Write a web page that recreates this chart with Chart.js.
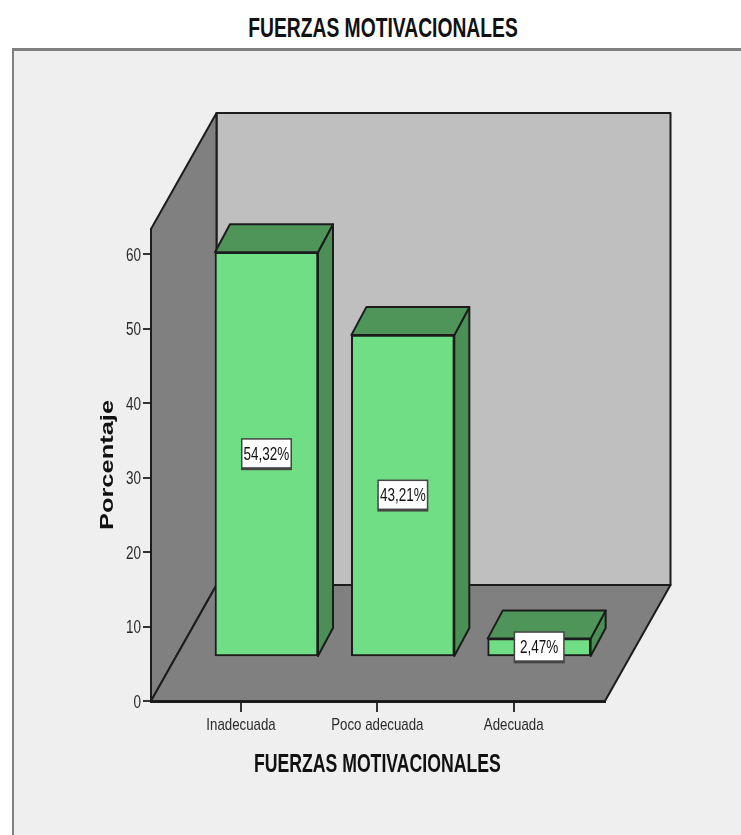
<!DOCTYPE html>
<html lang="es">
<head>
<meta charset="utf-8">
<title>FUERZAS MOTIVACIONALES</title>
<script src="https://cdn.jsdelivr.net/npm/chart.js@4"></script>
<style>
  html, body { margin: 0; padding: 0; background: #fff; overflow: hidden; }
  #page { position: relative; width: 741px; height: 835px; }
  #panel {
    position: absolute; left: 12px; top: 48px; right: 0; bottom: 0;
    background: #efefef;
    border-top: 3px solid #808080;
    border-left: 2px solid #808080;
  }
  h1 {
    position: absolute; left: 0; top: 13px; width: 766px; margin: 0;
    text-align: center; color: #111;
    font: bold 27px "Liberation Sans", sans-serif;
    transform: scaleX(0.714);
  }
  canvas { position: absolute; left: 0; top: 0; }
</style>
</head>
<body>
<div id="page">
  <div id="panel"></div>
  <h1>FUERZAS MOTIVACIONALES</h1>
  <canvas id="barChart" width="741" height="835"></canvas>
</div>
<script>
var categories = ["Inadecuada", "Poco adecuada", "Adecuada"];
var percentages = [54.32, 43.21, 2.47];
var valueLabels = ["54,32%", "43,21%", "2,47%"];
var yTickValues = [0, 10, 20, 30, 40, 50, 60];
var xTickValues = [0, 1, 2];
var xAxisTitle = "FUERZAS MOTIVACIONALES";
var yAxisTitle = "Porcentaje";

var SANS = '"Liberation Sans", sans-serif';
var EDGE = "#1c1c1c";

// pseudo-3D depth, in pixels
var FLOOR_DX = 65.5, FLOOR_DY = 116; // floor, front edge to back wall
var BAR_DX = 25.5, BAR_DY = 44;      // bar front face relative to the axis plane
var BOX_DX = 15, BOX_DY = 28;        // depth of each bar

function poly(ctx, pts, fill) {
  ctx.beginPath();
  ctx.moveTo(pts[0][0], pts[0][1]);
  for (var i = 1; i < pts.length; i++) ctx.lineTo(pts[i][0], pts[i][1]);
  ctx.closePath();
  ctx.fillStyle = fill;
  ctx.fill();
  ctx.strokeStyle = EDGE;
  ctx.lineWidth = 2;
  ctx.lineJoin = "round";
  ctx.stroke();
}

// there is no condensed face installed, so text is squeezed along its own direction
function squeezedText(ctx, text, x, y, font, color, sx, align) {
  ctx.save();
  ctx.translate(x, y);
  ctx.scale(sx, 1);
  ctx.font = font;
  ctx.fillStyle = color;
  ctx.textAlign = align || "center";
  ctx.textBaseline = "middle";
  ctx.fillText(text, 0, 0);
  ctx.restore();
}

var box3d = {
  id: "box3d",
  // back wall, side wall and floor
  beforeDatasetsDraw: function(chart) {
    var a = chart.chartArea, ctx = chart.ctx;
    var dx = FLOOR_DX, dy = FLOOR_DY;
    ctx.save();
    poly(ctx, [[a.left + dx, a.top - dy], [a.right + dx, a.top - dy],
               [a.right + dx, a.bottom - dy], [a.left + dx, a.bottom - dy]], "#bfbfbf");
    poly(ctx, [[a.left, a.top], [a.left + dx, a.top - dy],
               [a.left + dx, a.bottom - dy], [a.left, a.bottom]], "#808080");
    poly(ctx, [[a.left, a.bottom], [a.left + dx, a.bottom - dy],
               [a.right + dx, a.bottom - dy], [a.right, a.bottom]], "#808080");
    ctx.restore();
  },
  // shift the bars back onto the floor and add top and side faces
  beforeDatasetDraw: function(chart, args) {
    var ctx = chart.ctx;
    ctx.save();
    ctx.translate(BAR_DX, -BAR_DY);
    args.meta.data.forEach(function(bar) {
      var l = bar.x - bar.width / 2, r = bar.x + bar.width / 2;
      poly(ctx, [[r, bar.y], [r + BOX_DX, bar.y - BOX_DY],
                 [r + BOX_DX, bar.base - BOX_DY], [r, bar.base]], "#4b8f56");
      poly(ctx, [[l, bar.y], [l + BOX_DX, bar.y - BOX_DY],
                 [r + BOX_DX, bar.y - BOX_DY], [r, bar.y]], "#4f9559");
    });
  },
  afterDatasetDraw: function(chart) {
    chart.ctx.restore();
  },
  afterDatasetsDraw: function(chart) {
    var ctx = chart.ctx, xs = chart.scales.x, ys = chart.scales.y;

    // value labels in white boxes, centred on the front face
    chart.getDatasetMeta(0).data.forEach(function(bar, i) {
      var cx = bar.x + BAR_DX, cy = (bar.y + bar.base) / 2 - BAR_DY;
      ctx.fillStyle = "#444";
      ctx.fillRect(cx - 25.5, cy - 16, 51, 32);
      ctx.fillStyle = "#fff";
      ctx.fillRect(cx - 24, cy - 14.5, 48, 27.5);
      squeezedText(ctx, valueLabels[i], cx, cy + 0.5, "18px " + SANS, "#111", 0.75);
    });

    // axis text, placed from the scales
    xTickValues.forEach(function(v, i) {
      squeezedText(ctx, categories[i], xs.getPixelForValue(v), 725.5, "17px " + SANS, "#2a2a2a", 0.78);
    });
    yTickValues.forEach(function(v) {
      squeezedText(ctx, String(v), 141, ys.getPixelForValue(v) + 2, "18px " + SANS, "#2a2a2a", 0.75, "right");
    });
    squeezedText(ctx, xAxisTitle, xs.getPixelForValue(1), 765.5, "bold 25px " + SANS, "#111", 0.706);

    // rotated y title, stretched along the axis
    ctx.save();
    ctx.translate(113, 465);
    ctx.rotate(-Math.PI / 2);
    ctx.scale(1.34, 1);
    ctx.font = "bold 19px " + SANS;
    ctx.fillStyle = "#111";
    ctx.textAlign = "center";
    ctx.textBaseline = "alphabetic";
    ctx.fillText(yAxisTitle, 0, 0);
    ctx.restore();
  }
};

new Chart(document.getElementById("barChart"), {
  type: "bar",
  data: {
    datasets: [{
      data: categories.map(function(c, i) { return { x: i, y: percentages[i] }; }),
      backgroundColor: "#70de85",
      borderColor: EDGE,
      borderWidth: 2,
      borderSkipped: false,
      barThickness: 103,
      clip: false
    }]
  },
  options: {
    responsive: false,
    animation: false,
    layout: { padding: { left: 95, right: 136, top: 229, bottom: 55 } },
    plugins: { legend: { display: false }, tooltip: { enabled: false } },
    scales: {
      x: {
        type: "linear",
        offset: false,
        min: -0.66,
        max: 2.67,
        afterBuildTicks: function(scale) {
          scale.ticks = xTickValues.map(function(v) { return { value: v }; });
        },
        afterFit: function(scale) { scale.height = 79; },
        grid: { offset: false, drawOnChartArea: false, color: "#333", lineWidth: 2, tickLength: 11 },
        border: { color: EDGE, width: 3 },
        ticks: { display: false }
      },
      y: {
        min: 0,
        max: 63.36,
        afterBuildTicks: function(scale) {
          scale.ticks = yTickValues.map(function(v) { return { value: v }; });
        },
        afterFit: function(scale) { scale.width = 56; },
        grid: { drawOnChartArea: false, color: "#333", lineWidth: 2, tickLength: 8 },
        border: { color: EDGE, width: 2 },
        ticks: { display: false }
      }
    }
  },
  plugins: [box3d]
});
</script>
</body>
</html>
